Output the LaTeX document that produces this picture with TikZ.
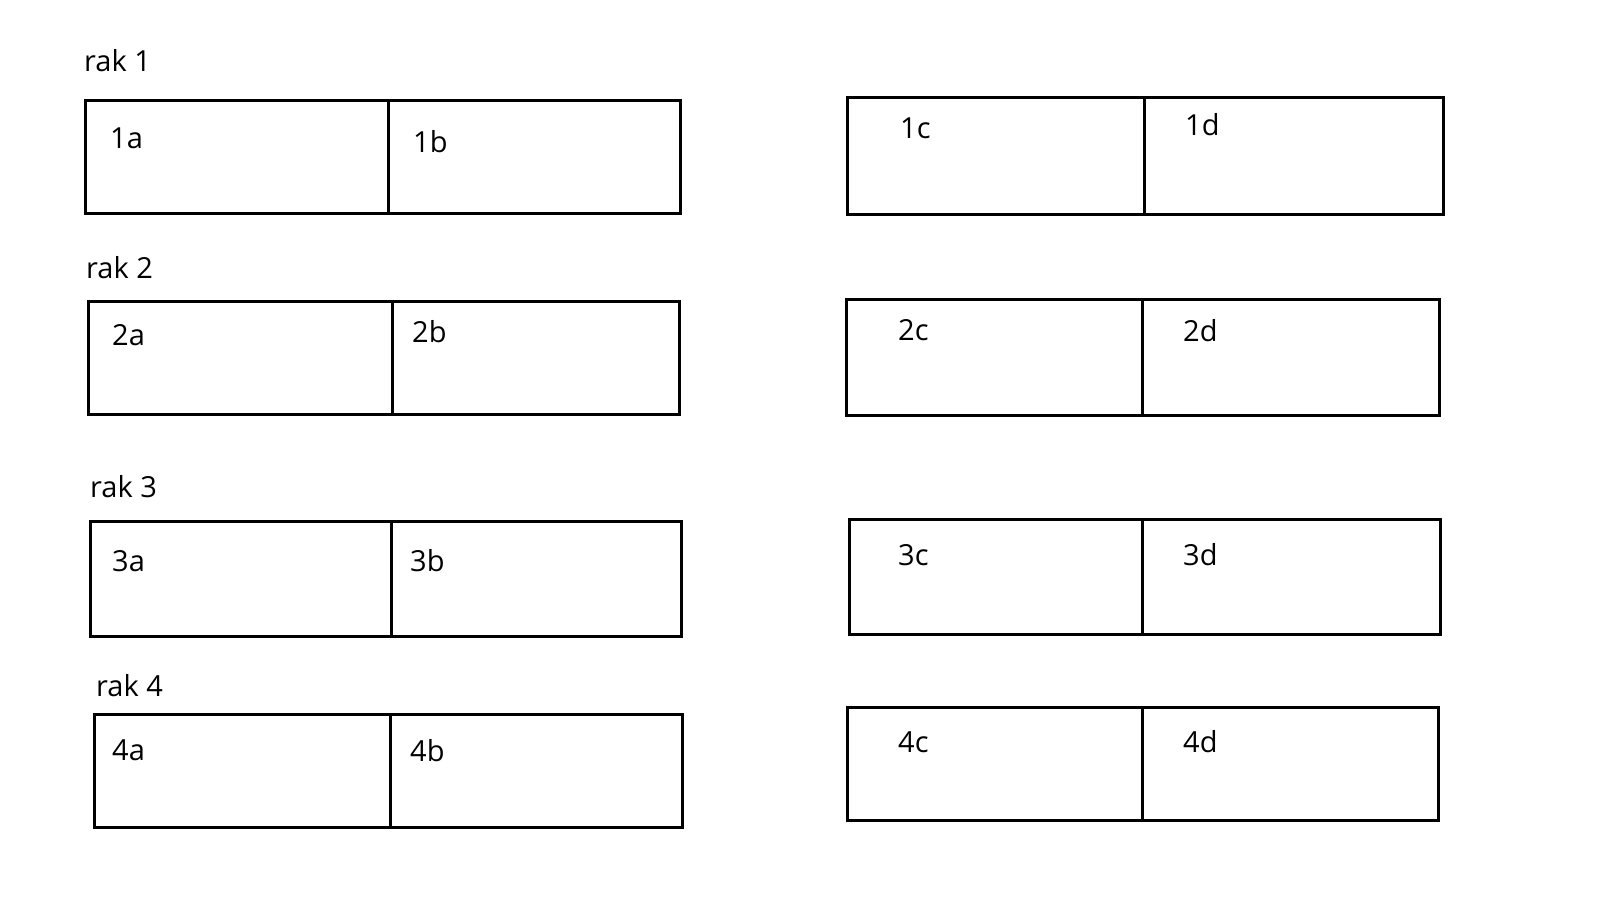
\documentclass[tikz,border=0pt]{standalone}
\usepackage{fontspec}
\setmainfont{Open Sans}
\begin{document}
\begin{tikzpicture}[x=1pt,y=-1pt,
  cell/.style={draw=black,line width=3pt,inner sep=0pt,outer sep=0pt,anchor=north west},
  lbl/.style={anchor=base west,inner sep=0pt,font=\fontsize{29}{34}\selectfont},
  rak/.style={anchor=base west,inner sep=0pt,font=\fontsize{29}{34}\selectfont}]
\useasboundingbox[fill=white] (0,0) rectangle (1599,899);
% shelf: name, x0, xmid, x1, y0, y1
\newcommand\shelfpair[6]{%
  \node[cell,minimum width={#3-#2},minimum height={#6-#5}] (#1a) at (#2,#5) {};
  \node[cell,minimum width={#4-#3},minimum height={#6-#5}] (#1b) at (#3,#5) {};
}
\shelfpair{c1L}{85}{388}{680}{100}{213}
\shelfpair{c1R}{847}{1144}{1443}{97}{214}
\shelfpair{c2L}{88}{392}{679}{301}{414}
\shelfpair{c2R}{846}{1142}{1439}{299}{415}
\shelfpair{c3L}{90}{391}{681}{521}{636}
\shelfpair{c3R}{849}{1142}{1440}{519}{634}
\shelfpair{c4L}{94}{390}{682}{714}{827}
\shelfpair{c4R}{847}{1142}{1438}{707}{820}
% rack labels
\node[rak] (r1) at (84,72) {rak 1};
\node[rak] (r2) at (86,278) {rak 2};
\node[rak] (r3) at (90,497) {rak 3};
\node[rak] (r4) at (96,696) {rak 4};
% cell labels
\node[lbl] (t1a) at (110,148) {1a};
\node[lbl] (t1b) at (413,152) {1b};
\node[lbl] (t1c) at (900,139) {1c};
\node[lbl] (t1d) at (1185,135) {1d};
\node[lbl] (t2a) at (112,345) {2a};
\node[lbl] (t2b) at (412,342) {2b};
\node[lbl] (t2c) at (898,340) {2c};
\node[lbl] (t2d) at (1183,341) {2d};
\node[lbl] (t3a) at (112,571) {3a};
\node[lbl] (t3b) at (410,571) {3b};
\node[lbl] (t3c) at (898,565) {3c};
\node[lbl] (t3d) at (1183,565) {3d};
\node[lbl] (t4a) at (112,760) {4a};
\node[lbl] (t4b) at (410,761) {4b};
\node[lbl] (t4c) at (898,752) {4c};
\node[lbl] (t4d) at (1183,752) {4d};
\end{tikzpicture}
\end{document}
